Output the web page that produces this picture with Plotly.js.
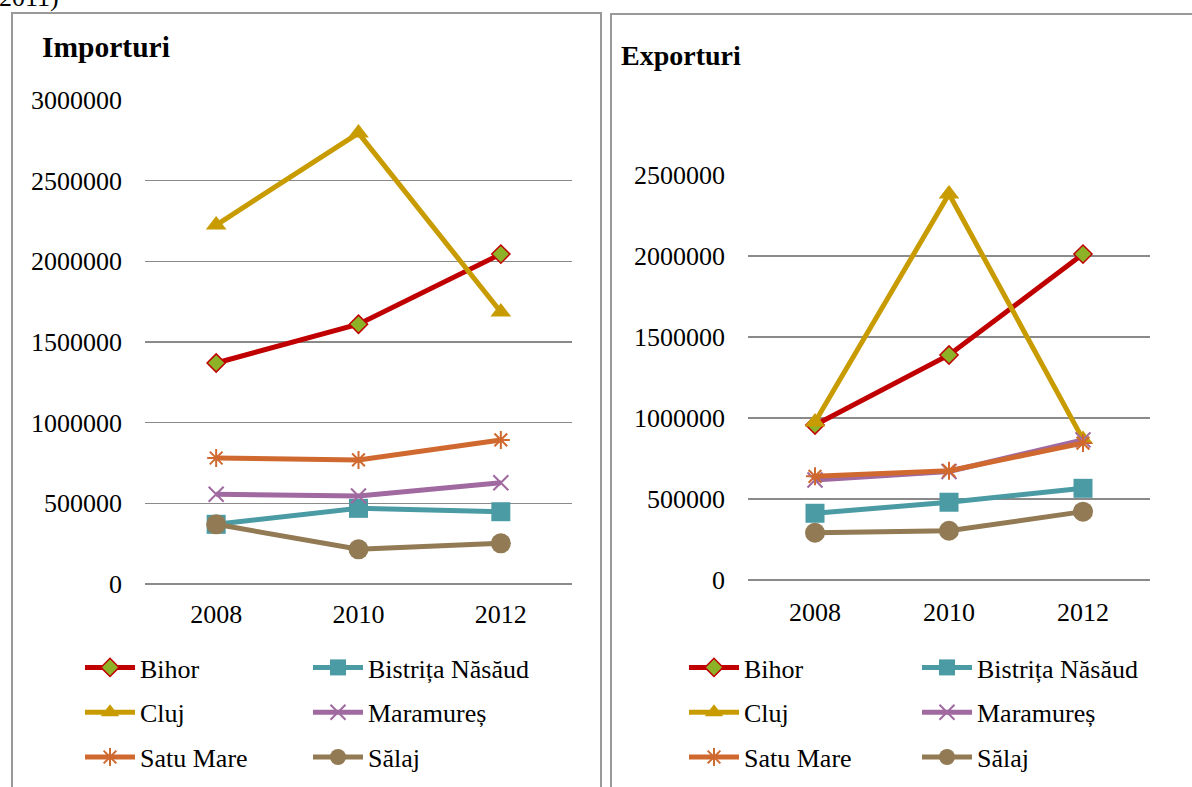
<!DOCTYPE html>
<html><head><meta charset="utf-8">
<script src="https://cdn.plot.ly/plotly-3.0.1.min.js"></script>
<style>html,body{margin:0;padding:0;background:#fff;} #chart{width:1192px;height:787px;}</style>
</head><body><div id="chart"></div>
<script>
// ---- data ----
const years = ['2008', '2010', '2012'];
const regions = ['Bihor', 'Bistrița Năsăud', 'Cluj', 'Maramureș', 'Satu Mare', 'Sălaj'];

const importBihor     = [1370000, 1610000, 2045000];
const importBistrita  = [370000, 469000, 448000];
const importCluj      = [2225000, 2795000, 1686000];
const importMaramures = [556000, 545000, 628000];
const importSatuMare  = [781000, 769000, 893000];
const importSalaj     = [370000, 215000, 252000];

const exportBihor     = [957000, 1389000, 2012000];
const exportBistrita  = [412000, 480000, 566000];
const exportCluj      = [975000, 2383000, 868000];
const exportMaramures = [617000, 670000, 865000];
const exportSatuMare  = [640000, 675000, 845000];
const exportSalaj     = [292000, 304000, 422000];

const panelTitles = ['Importuri', 'Exporturi'];
const cutText = '2011)';

// ---- styling ----
const W = 1192, H = 787;
const px = x => x / W;
const py = y => 1 - y / H;
const FONT = 'Times New Roman';
const GRID = '#8a8a8a';

const styles = [
  {color: '#C00000', marker: {symbol: 'diamond', size: 14, color: '#8DB228', line: {color: '#C00000', width: 1.5}}},
  {color: '#4A9BA3', marker: {symbol: 'square', size: 19, color: '#4A9BA3'}},
  {color: '#C89C00', marker: {symbol: 'triangle-up', size: 18, color: '#C89C00'}},
  {color: '#A069A0', marker: {symbol: 'x-thin-open', size: 15, color: '#A069A0', line: {color: '#A069A0', width: 2}}},
  {color: '#D0692F', marker: {symbol: 'asterisk-open', size: 15, color: '#D0692F', line: {color: '#D0692F', width: 2}}},
  {color: '#927A54', marker: {symbol: 'circle', size: 20, color: '#927A54'}}
];

const importSeries = [importBihor, importBistrita, importCluj, importMaramures, importSatuMare, importSalaj];
const exportSeries = [exportBihor, exportBistrita, exportCluj, exportMaramures, exportSatuMare, exportSalaj];

const traces = [];
function addPanel(series, xa, ya, legA, legB, tag) {
  series.forEach((vals, i) => {
    traces.push({
      type: 'scatter', mode: 'lines+markers',
      x: years, y: vals, name: regions[i],
      xaxis: xa, yaxis: ya,
      legend: (i % 2 === 0) ? legA : legB,
      legendgroup: tag + i,
      line: {color: styles[i].color, width: 5},
      marker: styles[i].marker,
      cliponaxis: false
    });
  });
}
addPanel(importSeries, 'x', 'y', 'legend', 'legend2', 'imp');
addPanel(exportSeries, 'x2', 'y2', 'legend3', 'legend4', 'exp');

function yAxis(domTop, domBot, maxV, anchor) {
  return {
    domain: [py(domBot), py(domTop)], range: [0, maxV], anchor: anchor,
    dtick: 500000, tick0: 0, tickformat: 'd',
    showgrid: true, gridcolor: GRID, gridwidth: 1.5,
    zeroline: true, zerolinecolor: GRID, zerolinewidth: 1.5,
    showline: false, ticks: '', ticklabelstandoff: 22,
    tickfont: {family: FONT, size: 26, color: '#000'}, fixedrange: true
  };
}
function xAxis(l, r, anchor, standoff) {
  return {
    domain: [px(l), px(r)], type: 'category', range: [-0.5, 2.5], anchor: anchor,
    showgrid: false, zeroline: false, showline: false, ticks: '',
    ticklabelstandoff: standoff,
    tickfont: {family: FONT, size: 26, color: '#000'}, fixedrange: true
  };
}
function legend(x, y) {
  return {
    x: px(x), xanchor: 'left', y: py(y), yanchor: 'top',
    orientation: 'v', bgcolor: 'rgba(0,0,0,0)', borderwidth: 0,
    traceorder: 'grouped', tracegroupgap: 8, itemwidth: 50,
    font: {family: FONT, size: 26, color: '#000'}
  };
}

const layout = {
  width: W, height: H,
  margin: {l: 0, r: 0, t: 0, b: 0},
  font: {family: FONT, size: 26, color: '#000'},
  paper_bgcolor: '#fff', plot_bgcolor: '#fff',
  showlegend: true,
  xaxis: xAxis(145, 572, 'y', 12),
  yaxis: yAxis(100, 584, 3000000, 'x'),
  xaxis2: xAxis(748, 1150, 'y2', 14),
  yaxis2: yAxis(175, 580, 2500000, 'x2'),
  legend: legend(80, 644),
  legend2: legend(308, 644),
  legend3: legend(684, 644),
  legend4: legend(917, 644),
  shapes: [
    {type: 'rect', xref: 'paper', yref: 'paper', x0: px(12), x1: px(601), y0: py(800), y1: py(13), line: {color: '#999', width: 2}, fillcolor: 'rgba(0,0,0,0)', layer: 'below'},
    {type: 'rect', xref: 'paper', yref: 'paper', x0: px(611), x1: px(1200), y0: py(800), y1: py(14), line: {color: '#999', width: 2}, fillcolor: 'rgba(0,0,0,0)', layer: 'below'}
  ],
  annotations: [
    {text: panelTitles[0], xref: 'paper', yref: 'paper', x: px(40), y: py(47), xanchor: 'left', yanchor: 'middle', showarrow: false, font: {family: FONT, size: 29.5, color: '#000', weight: 'bold'}},
    {text: panelTitles[1], xref: 'paper', yref: 'paper', x: px(619), y: py(55), xanchor: 'left', yanchor: 'middle', showarrow: false, font: {family: FONT, size: 28, color: '#000', weight: 'bold'}},
    {text: cutText, xref: 'paper', yref: 'paper', x: px(-3), y: py(-2), xanchor: 'left', yanchor: 'middle', showarrow: false, font: {family: FONT, size: 26, color: '#000'}}
  ]
};

Plotly.newPlot('chart', traces, layout, {staticPlot: true, displayModeBar: false});
</script>
</body></html>
